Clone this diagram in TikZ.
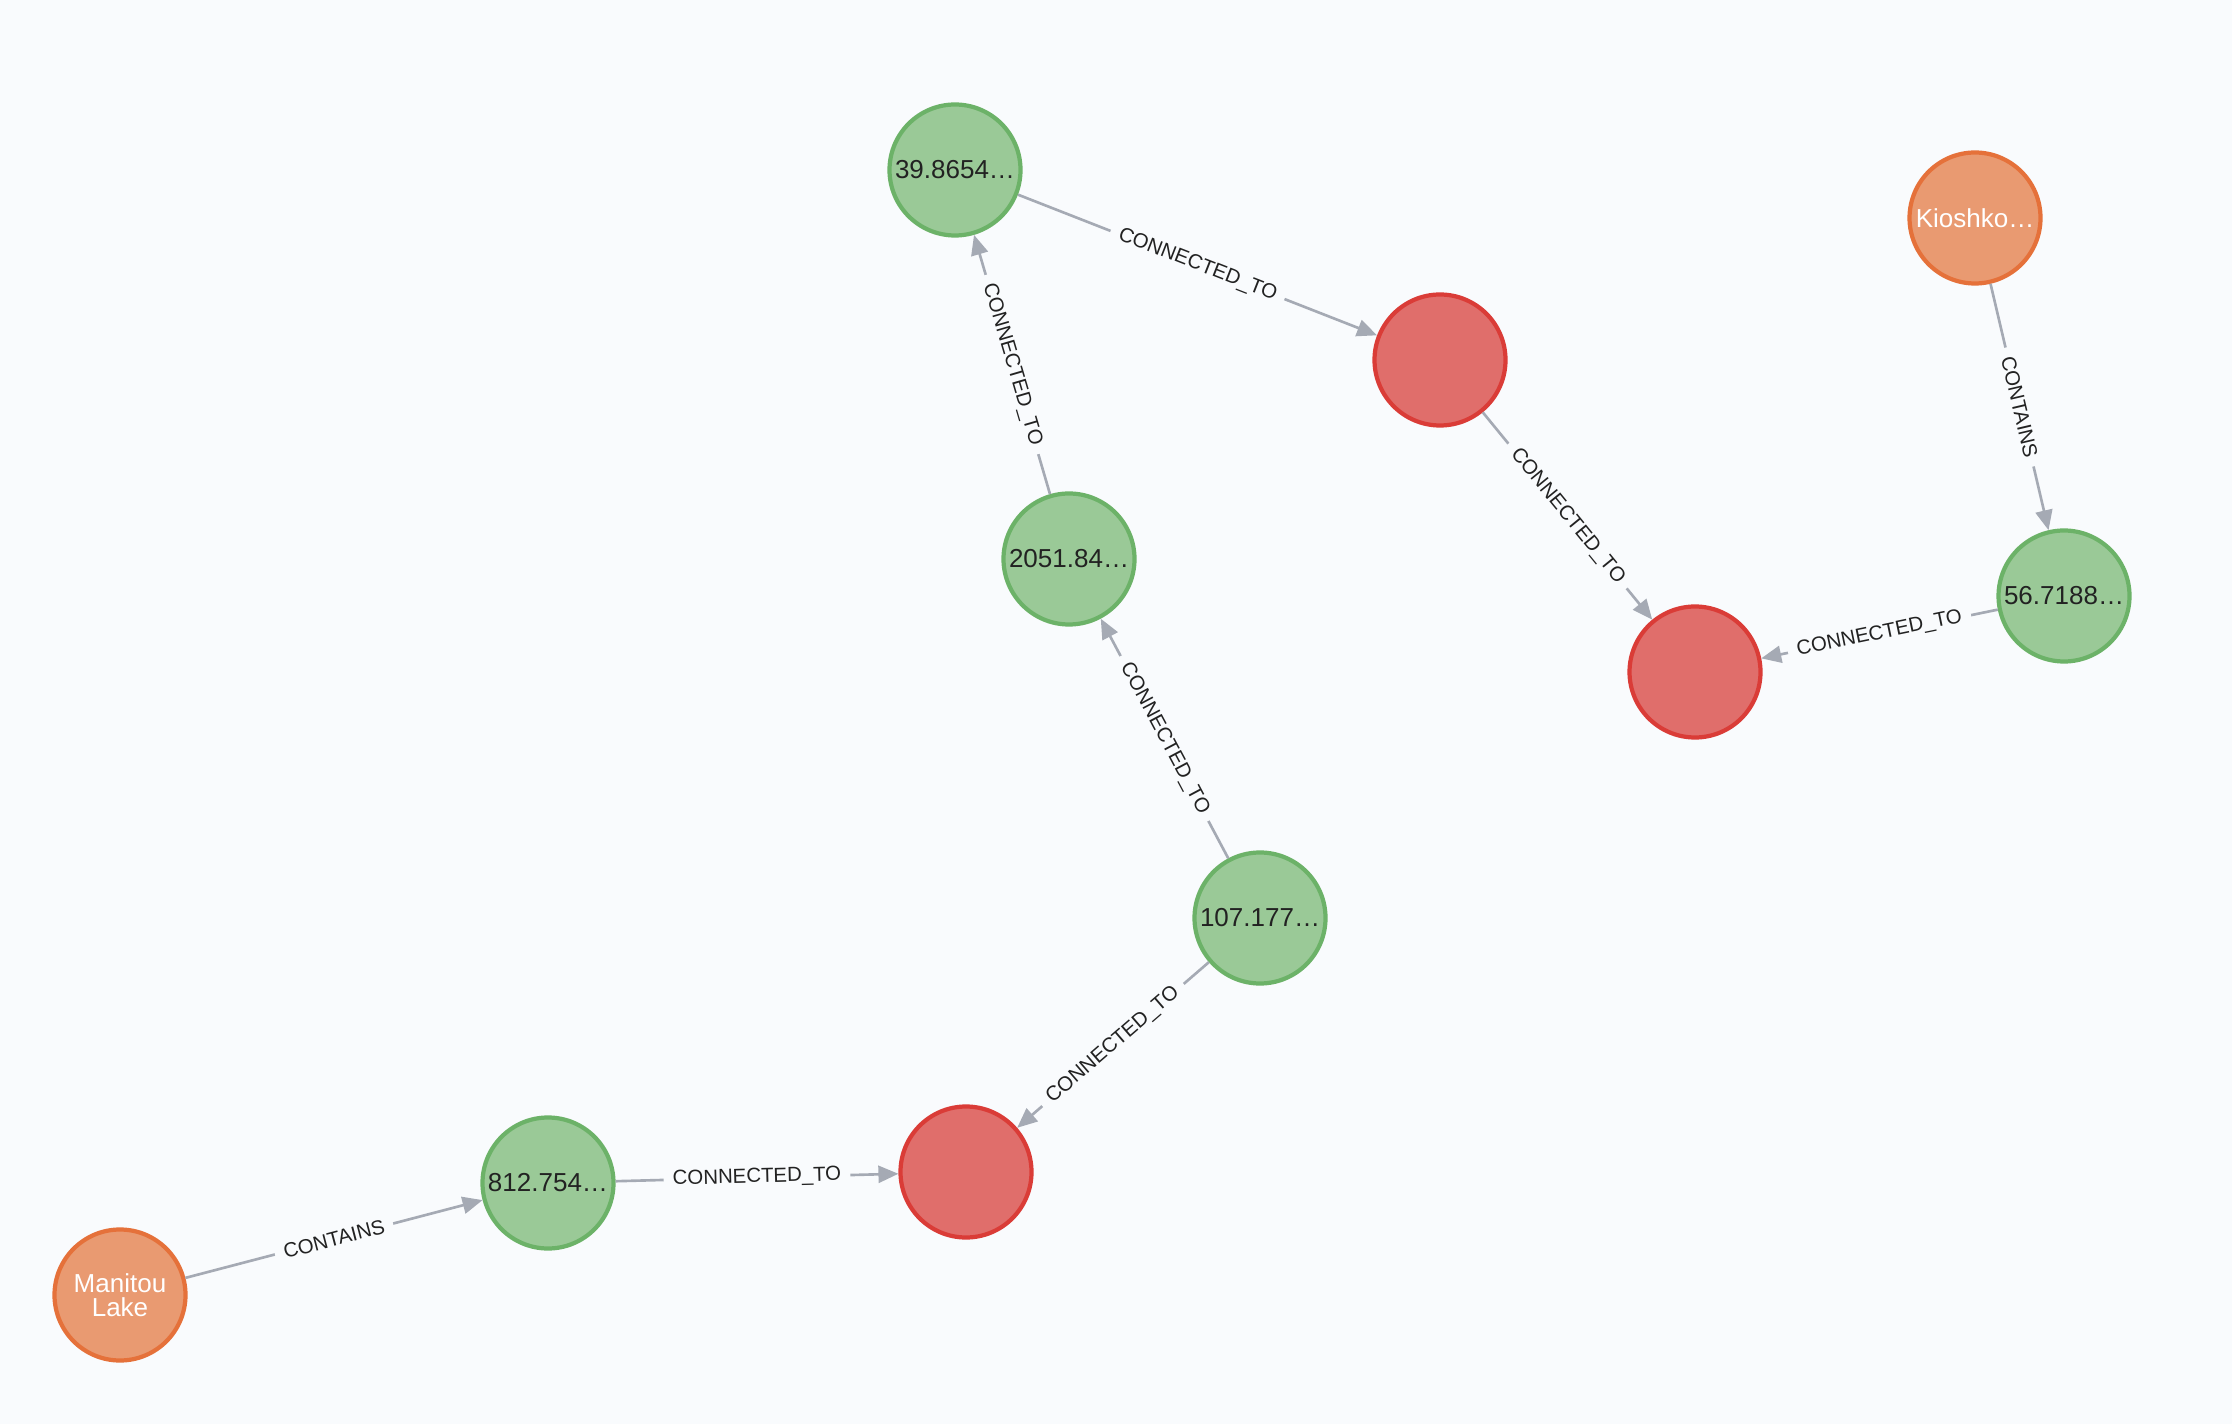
\documentclass[tikz,border=0pt]{standalone}
\usepackage{fontspec}
\setmainfont{Liberation Sans}
\usetikzlibrary{arrows.meta}
\definecolor{bgc}{HTML}{F9FBFD}
\definecolor{grnfill}{HTML}{9AC997}
\definecolor{grnline}{HTML}{6CB268}
\definecolor{redfill}{HTML}{E06E6B}
\definecolor{redline}{HTML}{DA3C37}
\definecolor{orgfill}{HTML}{E99A71}
\definecolor{orgline}{HTML}{E5713A}
\definecolor{edgec}{HTML}{A5AAB4}
\definecolor{txtc}{HTML}{222222}
\tikzset{
  pt/.style    = {draw=grnline, fill=grnfill, circle, line width=1.2pt,
                  minimum size=1.31cm, inner sep=0pt, text=txtc,
                  font=\fontsize{7.4}{9}\selectfont},
  junc/.style  = {pt, draw=redline, fill=redfill},
  lake/.style  = {pt, draw=orgline, fill=orgfill, text=white, align=center,
                  font=\fontsize{7.4}{6.9}\selectfont},
  ar/.style    = {-{Triangle[length=2mm, width=1.7mm]}, draw=edgec,
                  line width=0.75pt},
  lbl/.style   = {sloped, fill=bgc, text=txtc, inner xsep=2.6pt,
                  inner ysep=0.6pt, font=\fontsize{5.8}{7}\selectfont},
}
\begin{document}
\begin{tikzpicture}
  \fill[bgc] (0,0) rectangle (22.32,-14.24);
  \useasboundingbox (0,0) rectangle (22.32,-14.24);

  % ---- nodes ----
  \node[pt]   (p39)   at (9.55,-1.70)   {39.8654…};
  \node[junc] (j1)    at (14.40,-3.60)  {};
  \node[lake] (kio)   at (19.75,-2.18)  {Kioshko…};
  \node[pt]   (p56)   at (20.64,-5.96)  {56.7188…};
  \node[junc] (j2)    at (16.95,-6.72)  {};
  \node[pt]   (p2051) at (10.69,-5.59)  {2051.84…};
  \node[pt]   (p107)  at (12.60,-9.18)  {107.177…};
  \node[junc] (j3)    at (9.66,-11.72)  {};
  \node[pt]   (p812)  at (5.48,-11.83)  {812.754…};
  \node[lake] (man)   at (1.20,-12.95)  {Manitou\\Lake};

  % ---- edges ----
  \draw[ar] (p39) -- node[lbl] {CONNECTED\_TO} (j1);
  \draw[ar] (j1) -- node[lbl] {CONNECTED\_TO} (j2);
  \draw[ar] (kio) -- node[lbl] {CONTAINS} (p56);
  \draw[ar] (p56) -- node[lbl] {CONNECTED\_TO} (j2);
  \draw[ar] (p2051) -- node[lbl] {CONNECTED\_TO} (p39);
  \draw[ar] (p107) -- node[lbl] {CONNECTED\_TO} (p2051);
  \draw[ar] (p107) -- node[lbl] {CONNECTED\_TO} (j3);
  \draw[ar] (p812) -- node[lbl] {CONNECTED\_TO} (j3);
  \draw[ar] (man) -- node[lbl] {CONTAINS} (p812);
\end{tikzpicture}
\end{document}
